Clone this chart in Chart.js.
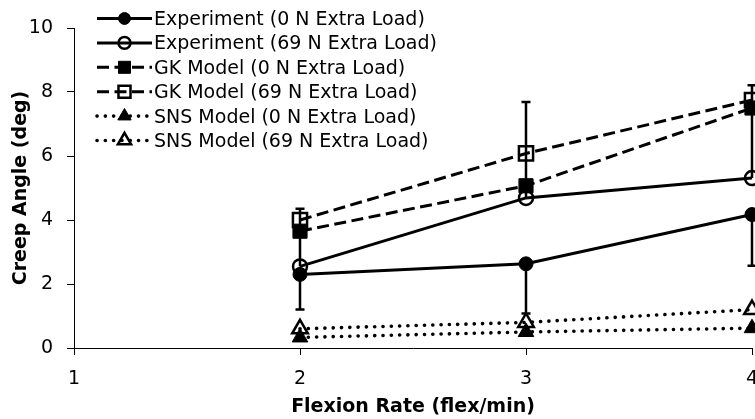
<!DOCTYPE html>
<html>
<head>
<meta charset="utf-8">
<script src="https://cdn.jsdelivr.net/npm/chart.js@4"></script>
<style>
  body { margin: 0; background: #fff; }
  canvas { display: block; }
</style>
</head>
<body>
<canvas id="creepChart" width="755" height="419"></canvas>
<script>
// flexion rates tested and axis ticks
const flexRates = [2, 3, 4];
const xTicks = [1, 2, 3, 4];
const yTicks = [0, 2, 4, 6, 8, 10];

// creep angle (deg) per flexion rate
const exp0 = [2.3, 2.63, 4.17];
const exp0ErrMinus = [1.1, 1.55, 1.6];
const exp69 = [2.55, 4.69, 5.31];
const exp69ErrPlus = [1.8, 3.0, 2.9];
const gk0 = [3.65, 5.07, 7.5];
const gk69 = [4.0, 6.08, 7.75];
const sns0 = [0.33, 0.5, 0.62];
const sns69 = [0.6, 0.8, 1.2];

const seriesLabels = [
  "Experiment (0 N Extra Load)",
  "Experiment (69 N Extra Load)",
  "GK Model (0 N Extra Load)",
  "GK Model (69 N Extra Load)",
  "SNS Model (0 N Extra Load)",
  "SNS Model (69 N Extra Load)",
];

const FONT = "'DejaVu Sans', sans-serif";
const SOLID = [];
const DASHED = [12, 5.5];
const DOTTED = [0.1, 8.2];

function points(values) {
  return flexRates.map((x, i) => ({ x: x, y: values[i] }));
}

function series(label, values, dash, style, filled, radius) {
  return {
    label: label,
    data: points(values),
    borderColor: "#000",
    borderWidth: dash === DOTTED ? 3.6 : 3,
    borderDash: dash,
    borderCapStyle: dash === DOTTED ? "round" : "butt",
    pointStyle: style,
    pointRadius: radius,
    pointHoverRadius: radius,
    pointBackgroundColor: filled ? "#000" : "rgba(0,0,0,0)",
    pointBorderColor: "#000",
    pointBorderWidth: filled ? 1 : 2.5,
    tension: 0,
    clip: false,
  };
}

// one-sided error bars on the experimental series
const errorBars = [
  { values: exp0, err: exp0ErrMinus, dir: -1 },
  { values: exp69, err: exp69ErrPlus, dir: 1 },
];

const errorBarPlugin = {
  id: "errorBars",
  beforeDatasetsDraw(chart) {
    const { ctx, scales } = chart;
    ctx.save();
    ctx.strokeStyle = "#000";
    ctx.lineWidth = 2.5;
    errorBars.forEach((bar) => {
      flexRates.forEach((rate, i) => {
        const px = scales.x.getPixelForValue(rate);
        const y0 = scales.y.getPixelForValue(bar.values[i]);
        const y1 = scales.y.getPixelForValue(bar.values[i] + bar.dir * bar.err[i]);
        ctx.beginPath();
        ctx.moveTo(px, y0);
        ctx.lineTo(px, y1);
        ctx.moveTo(px - 4.5, y1);
        ctx.lineTo(px + 4.5, y1);
        ctx.stroke();
      });
    });
    ctx.restore();
  },
};

// legend drawn as line + marker samples in the top left corner
const sampleLegend = {
  id: "sampleLegend",
  afterDraw(chart) {
    const ctx = chart.ctx;
    ctx.save();
    chart.data.datasets.forEach((ds, i) => {
      const y = 18.5 + i * 24.4;
      ctx.strokeStyle = "#000";
      ctx.lineWidth = ds.borderWidth;
      ctx.lineCap = ds.borderCapStyle;
      ctx.setLineDash(ds.borderDash);
      ctx.beginPath();
      ctx.moveTo(97, y);
      ctx.lineTo(152, y);
      ctx.stroke();
      ctx.setLineDash([]);
      ctx.lineCap = "butt";
      ctx.fillStyle = ds.pointBackgroundColor;
      ctx.lineWidth = ds.pointBorderWidth;
      Chart.helpers.drawPoint(ctx, {
        pointStyle: ds.pointStyle,
        radius: ds.pointRadius * 0.85,
        rotation: 0,
        borderWidth: ds.pointBorderWidth,
      }, 124.5, y);
      ctx.fillStyle = "#000";
      ctx.font = "19px " + FONT;
      ctx.textBaseline = "middle";
      ctx.textAlign = "left";
      ctx.fillText(ds.label, 154, y + 1.5);
    });
    ctx.restore();
  },
};

document.addEventListener("DOMContentLoaded", function () {
  const ctx = document.getElementById("creepChart");

  Chart.defaults.font.family = FONT;
  Chart.defaults.font.size = 19;
  Chart.defaults.color = "#000";

  new Chart(ctx, {
    type: "line",
    data: {
      datasets: [
        series(seriesLabels[0], exp0, SOLID, "circle", true, 7),
        series(seriesLabels[1], exp69, SOLID, "circle", false, 7),
        series(seriesLabels[2], gk0, DASHED, "rect", true, 10),
        series(seriesLabels[3], gk69, DASHED, "rect", false, 10),
        series(seriesLabels[4], sns0, DOTTED, "triangle", true, 9),
        series(seriesLabels[5], sns69, DOTTED, "triangle", false, 9),
      ],
    },
    options: {
      responsive: false,
      animation: false,
      layout: {
        autoPadding: false,
        padding: { top: 28, right: 3, left: 0, bottom: 0 },
      },
      plugins: {
        legend: { display: false },
        tooltip: { enabled: false },
      },
      scales: {
        x: {
          type: "linear",
          min: 1,
          max: 4,
          afterBuildTicks: (scale) => {
            scale.ticks = xTicks.map((v) => ({ value: v }));
          },
          afterFit: (scale) => {
            scale.height = 71;
            scale.paddingLeft = 0;
            scale.paddingRight = 0;
          },
          grid: {
            drawOnChartArea: false,
            drawTicks: true,
            tickLength: 7,
            color: "#000",
            lineWidth: 1,
          },
          border: { color: "#000", width: 1 },
          ticks: { padding: 13, maxRotation: 0 },
          title: {
            display: true,
            text: "Flexion Rate (flex/min)",
            font: { weight: "bold", size: 19 },
            padding: { top: 0, bottom: 1 },
          },
        },
        y: {
          min: 0,
          max: 10,
          afterBuildTicks: (scale) => {
            scale.ticks = yTicks.map((v) => ({ value: v }));
          },
          afterFit: (scale) => {
            scale.width = 74;
            scale.paddingTop = 0;
            scale.paddingBottom = 0;
          },
          grid: {
            drawOnChartArea: false,
            drawTicks: true,
            tickLength: 7,
            color: "#000",
            lineWidth: 1,
          },
          border: { color: "#000", width: 1 },
          ticks: { padding: 14 },
          title: {
            display: true,
            text: "Creep Angle (deg)",
            font: { weight: "bold", size: 19 },
            padding: { top: 10, bottom: 0 },
          },
        },
      },
    },
    plugins: [errorBarPlugin, sampleLegend],
  });
});
</script>
</body>
</html>
